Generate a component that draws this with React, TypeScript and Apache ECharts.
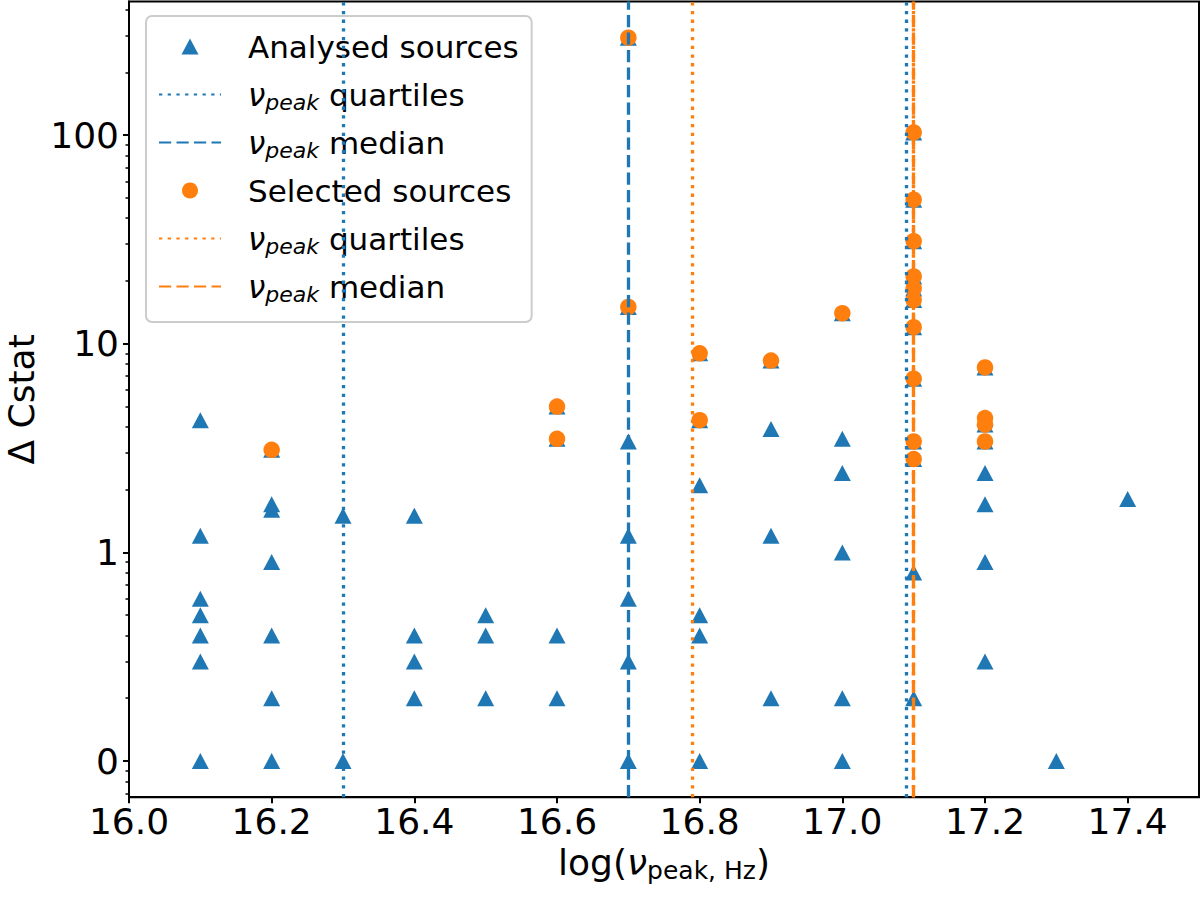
import React, { useEffect, useRef } from 'react';
import * as echarts from 'echarts';

const BLUE = '#1f77b4';
const ORANGE = '#ff7f0e';
const FONT = 'DejaVu Sans';

// Analysed sources: log(nu_peak) and Delta Cstat
const analysedNu = [
  16.1, 16.1, 16.1, 16.1, 16.1, 16.1, 16.1,
  16.2, 16.2, 16.2, 16.2, 16.2, 16.2, 16.2,
  16.3, 16.3,
  16.4, 16.4, 16.4, 16.4,
  16.5, 16.5, 16.5,
  16.6, 16.6, 16.6, 16.6,
  16.7, 16.7, 16.7, 16.7, 16.7, 16.7, 16.7,
  16.8, 16.8, 16.8, 16.8, 16.8, 16.8,
  16.9, 16.9, 16.9, 16.9,
  17.0, 17.0, 17.0, 17.0, 17.0, 17.0,
  17.1, 17.1, 17.1, 17.1, 17.1, 17.1, 17.1, 17.1, 17.1, 17.1, 17.1, 17.1,
  17.2, 17.2, 17.2, 17.2, 17.2, 17.2, 17.2, 17.2,
  17.3,
  17.4,
];
const analysedDC = [
  4.3, 1.2, 0.6, 0.5, 0.4, 0.3, 0,
  3.1, 1.7, 1.6, 0.9, 0.4, 0.2, 0,
  1.5, 0,
  1.5, 0.4, 0.3, 0.2,
  0.5, 0.4, 0.2,
  5.0, 3.5, 0.4, 0.2,
  293, 15, 3.4, 1.2, 0.6, 0.3, 0,
  9.0, 4.3, 2.1, 0.5, 0.4, 0,
  8.3, 3.9, 1.2, 0.2,
  14, 3.5, 2.4, 1.0, 0.2, 0,
  103, 49, 31, 21, 18.4, 16.2, 12, 6.8, 3.4, 2.8, 0.8, 0.2,
  7.7, 4.4, 4.1, 3.4, 2.4, 1.7, 0.9, 0.3,
  0,
  1.8,
];

// Selected sources
const selectedNu = [
  16.2,
  16.6, 16.6,
  16.7, 16.7,
  16.8, 16.8,
  16.9,
  17.0,
  17.1, 17.1, 17.1, 17.1, 17.1, 17.1, 17.1, 17.1, 17.1, 17.1,
  17.2, 17.2, 17.2, 17.2,
];
const selectedDC = [
  3.1,
  5.0, 3.5,
  293, 15,
  9.0, 4.3,
  8.3,
  14,
  103, 49, 31, 21, 18.4, 16.2, 12, 6.8, 3.4, 2.8,
  7.7, 4.4, 4.1, 3.4,
];

// nu_peak statistics of both samples
const analysedQuartiles = [16.3, 17.095];
const analysedMedian = [16.7];
const selectedQuartiles = [16.7875, 17.1];
const selectedMedian = [17.1];

// Axis ticks
const xTicks = [16.0, 16.2, 16.4, 16.6, 16.8, 17.0, 17.2, 17.4];
const yTicks = [0, 1, 10, 100];
const yTickLabels = ['0', '1', '10', '100'];

// A Delta Cstat of zero sits one decade below 1 on the log axis
const ZERO_LEVEL = 0.1;
const toAxis = (v: number) => (v <= 0 ? ZERO_LEVEL : v);

const yTickPos = yTicks.map(toAxis);
const logs = analysedDC.map((v) => Math.log10(toAxis(v)));
const logLo = Math.min(...logs);
const logHi = Math.max(...logs);
const logPad = 0.05 * (logHi - logLo);
const yMin = Math.pow(10, logLo - logPad);
const yMax = Math.pow(10, logHi + logPad);

const minorPos: number[] = [];
for (let k = -2; k <= 2; k++) {
  for (let m = 2; m <= 9; m++) {
    const v = m * Math.pow(10, k);
    if (v > yMin && v < yMax) minorPos.push(v);
  }
}

const DOTTED = [3.3, 5.4];
const DASHED = [12.2, 5.3];

// Legend triangle: a 17x16 marker centred in a 62x16 icon box
const LEGEND_TRIANGLE = 'path://M0,0M62,16M22.5,16L31,0L39.5,16Z';

function vLines(name: string, xs: number[], color: string, dash: number[]) {
  const ls = { color, width: 3.3, type: dash, cap: 'butt' };
  return {
    name,
    type: 'line',
    data: [],
    symbol: 'none',
    z: 3,
    itemStyle: { color, opacity: 0 },
    lineStyle: ls,
    markLine: {
      silent: true,
      symbol: ['none', 'none'],
      label: { show: false },
      emphasis: { disabled: true },
      lineStyle: ls,
      data: xs.map((x) => ({ xAxis: x })),
    },
  };
}

const legendText: Record<string, string> = {
  'Analysed sources': 'Analysed sources',
  'Analysed quartiles': '{nu|ν}{sub|peak} quartiles',
  'Analysed median': '{nu|ν}{sub|peak} median',
  'Selected sources': 'Selected sources',
  'Selected quartiles': '{nu|ν}{sub|peak} quartiles',
  'Selected median': '{nu|ν}{sub|peak} median',
};

export default function App() {
  const ref = useRef<HTMLDivElement>(null);

  useEffect(() => {
    if (!ref.current) return;
    const chart = echarts.init(ref.current, null, { renderer: 'svg' });
    const axisLineStyle = { color: '#000', width: 2 };
    const tickFont = { fontSize: 36, fontFamily: FONT, color: '#000' };
    const hidden = { opacity: 0 };

    chart.setOption({
      animation: false,
      backgroundColor: '#fff',
      grid: {
        left: 129,
        right: 1,
        top: 1.5,
        bottom: 100.8,
        outerBoundsMode: 'none',
        containLabel: false,
        show: true,
        borderColor: '#000',
        borderWidth: 2,
        backgroundColor: 'transparent',
      },
      xAxis: {
        type: 'value',
        min: 16,
        max: 17.5,
        axisLine: { onZero: false, lineStyle: axisLineStyle },
        axisTick: { customValues: xTicks, length: 6, lineStyle: axisLineStyle },
        axisLabel: {
          customValues: xTicks,
          formatter: (v: number) => v.toFixed(1),
          margin: 6,
          ...tickFont,
        },
        splitLine: { show: false },
        name: '{a|log(}{nu|ν}{sub|peak, Hz}{a|)}',
        nameLocation: 'middle',
        nameGap: 44,
        nameTextStyle: {
          fontSize: 36,
          fontFamily: FONT,
          color: '#000',
          rich: {
            a: { fontSize: 36, fontFamily: FONT, color: '#000' },
            nu: { fontSize: 36, fontFamily: FONT, fontStyle: 'italic', color: '#000' },
            sub: { fontSize: 25, fontFamily: FONT, color: '#000', padding: [16, 0, 0, 0] },
          },
        },
      },
      yAxis: [
        {
          type: 'log',
          logBase: 10,
          min: yMin,
          max: yMax,
          axisLine: { show: true, onZero: false, lineStyle: axisLineStyle },
          axisTick: { customValues: yTickPos, length: 6, lineStyle: axisLineStyle },
          axisLabel: {
            customValues: yTickPos,
            formatter: (v: number) => {
              const i = yTickPos.findIndex((p) => Math.abs(Math.log10(p) - Math.log10(v)) < 1e-6);
              return i >= 0 ? yTickLabels[i] : '';
            },
            margin: 10,
            ...tickFont,
          },
          splitLine: { show: false },
          minorTick: { show: false },
          name: 'Δ Cstat',
          nameLocation: 'middle',
          nameGap: 93,
          nameRotate: 90,
          nameTextStyle: { fontSize: 36, lineHeight: 28, fontFamily: FONT, color: '#000' },
        },
        {
          type: 'log',
          logBase: 10,
          min: yMin,
          max: yMax,
          position: 'left',
          axisLine: { show: false },
          axisLabel: { show: false },
          axisTick: { customValues: minorPos, length: 3.5, lineStyle: { color: '#000', width: 1.5 } },
          splitLine: { show: false },
        },
      ],
      legend: {
        left: 146,
        top: 16,
        orient: 'vertical',
        selectedMode: false,
        itemWidth: 62,
        itemHeight: 16,
        itemGap: 11,
        symbolKeepAspect: true,
        padding: [12, 13, 17, 12],
        backgroundColor: 'rgba(255,255,255,0.8)',
        borderColor: '#cccccc',
        borderWidth: 2,
        borderRadius: 6,
        data: [
          { name: 'Analysed sources', icon: LEGEND_TRIANGLE },
          { name: 'Analysed quartiles', itemStyle: hidden },
          { name: 'Analysed median', itemStyle: hidden },
          { name: 'Selected sources', icon: 'circle' },
          { name: 'Selected quartiles', itemStyle: hidden },
          { name: 'Selected median', itemStyle: hidden },
        ],
        formatter: (name: string) => legendText[name] ?? name,
        textStyle: {
          fontSize: 31,
          fontFamily: FONT,
          color: '#000',
          lineHeight: 37,
          padding: [0, 0, 0, 22],
          rich: {
            nu: { fontSize: 31, fontFamily: FONT, fontStyle: 'italic', color: '#000', lineHeight: 37 },
            sub: {
              fontSize: 22,
              fontFamily: FONT,
              fontStyle: 'italic',
              color: '#000',
              lineHeight: 22,
              padding: [15, 0, 0, 0],
            },
          },
        },
      },
      series: [
        {
          name: 'Analysed sources',
          type: 'scatter',
          data: analysedNu.map((x, i) => [x, toAxis(analysedDC[i])]),
          symbol: 'triangle',
          symbolSize: [17, 16],
          itemStyle: { color: BLUE, opacity: 1 },
          z: 2,
        },
        vLines('Analysed quartiles', analysedQuartiles, BLUE, DOTTED),
        vLines('Analysed median', analysedMedian, BLUE, DASHED),
        {
          name: 'Selected sources',
          type: 'scatter',
          data: selectedNu.map((x, i) => [x, toAxis(selectedDC[i])]),
          symbol: 'circle',
          symbolSize: 16.5,
          itemStyle: { color: ORANGE, opacity: 1 },
          z: 2,
        },
        vLines('Selected quartiles', selectedQuartiles, ORANGE, DOTTED),
        vLines('Selected median', selectedMedian, ORANGE, DASHED),
      ],
    });

    return () => chart.dispose();
  }, []);

  return (
    <div
      ref={ref}
      style={{ position: 'fixed', left: 0, top: 0, width: 1200, height: 898, background: '#fff' }}
    />
  );
}
